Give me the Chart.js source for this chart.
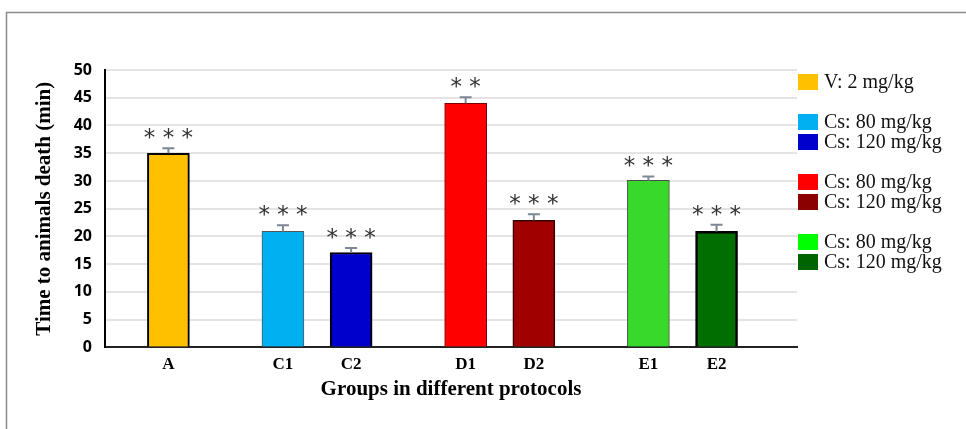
<!DOCTYPE html>
<html>
<head>
<meta charset="utf-8">
<script src="https://cdn.jsdelivr.net/npm/chart.js@4.4.1/dist/chart.umd.min.js"></script>
<style>
  html, body { margin: 0; padding: 0; background: #fff; }
  #wrap { width: 966px; height: 429px; position: relative; }
</style>
</head>
<body>
<div id="wrap"><canvas id="barChart"></canvas></div>
<script>
// groups of bars (protocols), one label per bar
const groups = [['A'], ['C1', 'C2'], ['D1', 'D2'], ['E1', 'E2']];
const times = [35.0, 20.9, 17.1, 44.0, 22.9, 30.1, 20.9];
const errors = [0.9, 1.1, 0.8, 1.1, 1.1, 0.7, 1.2];
const stars = ['***', '***', '***', '**', '***', '***', '***'];
const yTicks = [0, 5, 10, 15, 20, 25, 30, 35, 40, 45, 50];

const legendLabels = ['V: 2 mg/kg', null, 'Cs: 80 mg/kg', 'Cs: 120 mg/kg', null,
  'Cs: 80 mg/kg', 'Cs: 120 mg/kg', null, 'Cs: 80 mg/kg', 'Cs: 120 mg/kg'];
const legendColors = ['#FFC000', null, '#00B0F0', '#0000CC', null,
  '#FF0000', '#8B0000', null, '#00FF00', '#006400'];

const barColors = ['#FFC000', '#00B0F0', '#0000CC', '#FF0000', '#A00000', '#38D92A', '#006E00'];
const barBorders = ['#000', '#555', '#000', '#7a0000', '#3a0000', '#4a4a4a', '#000'];
const barBorderWidths = [2, 1, 2, 1, 1.5, 1, 2.5];

// x positions: one unit between bars of a group, a wider gap between groups
const groupGap = 1.68;
const labels = [];
const xPos = [];
let pos = 0;
groups.forEach((g, gi) => {
    if (gi > 0) pos += groupGap - 1;
    g.forEach(name => {
        labels.push(name);
        xPos.push(pos);
        pos += 1;
    });
});
const xMin = -0.93;
const xMax = xPos[xPos.length - 1] + 1.18;

const points = times.map((v, i) => ({ x: xPos[i], y: v }));

// frame line on left and top
const framePlugin = {
    id: 'frame',
    beforeDraw(chart) {
        const ctx = chart.ctx;
        ctx.save();
        ctx.strokeStyle = '#8c8c8c';
        ctx.lineWidth = 1.5;
        ctx.beginPath();
        ctx.moveTo(6.5, 429);
        ctx.lineTo(6.5, 12.5);
        ctx.lineTo(966, 12.5);
        ctx.stroke();
        ctx.restore();
    }
};

// error bars + significance stars
const errorPlugin = {
    id: 'errorBars',
    afterDatasetsDraw(chart) {
        const ctx = chart.ctx;
        const meta = chart.getDatasetMeta(0);
        const yScale = chart.scales.y;
        ctx.save();
        meta.data.forEach((bar, i) => {
            const top = yScale.getPixelForValue(times[i] + errors[i]);
            ctx.strokeStyle = '#7d8794';
            ctx.lineWidth = 2;
            ctx.beginPath();
            ctx.moveTo(bar.x, bar.y);
            ctx.lineTo(bar.x, top);
            ctx.moveTo(bar.x - 6, top);
            ctx.lineTo(bar.x + 6, top);
            ctx.stroke();

            ctx.fillStyle = '#333';
            ctx.font = '23px "DejaVu Sans"';
            ctx.textAlign = 'center';
            ctx.textBaseline = 'middle';
            ctx.fillText(stars[i].split('').join(' '), bar.x, top - 9);
        });
        ctx.restore();
    }
};

// legend on the right with blank rows between groups
const legendPlugin = {
    id: 'sideLegend',
    afterDraw(chart) {
        const ctx = chart.ctx;
        const x0 = chart.chartArea.right + 1;
        ctx.save();
        ctx.font = '20px "Liberation Serif"';
        ctx.textAlign = 'left';
        ctx.textBaseline = 'middle';
        legendLabels.forEach((txt, i) => {
            if (!txt) return;
            const cy = 82 + i * 20;
            ctx.fillStyle = legendColors[i];
            ctx.fillRect(x0, cy - 8, 20, 16);
            ctx.fillStyle = '#111';
            ctx.fillText(txt, x0 + 26, cy + 1);
        });
        ctx.restore();
    }
};

new Chart(document.getElementById('barChart'), {
    type: 'bar',
    data: {
        datasets: [{
            data: points,
            backgroundColor: barColors,
            borderColor: barBorders,
            borderWidth: barBorderWidths,
            barThickness: 42
        }]
    },
    options: {
        responsive: true,
        maintainAspectRatio: false,
        animation: false,
        layout: { padding: { left: 10, top: 70, right: 169, bottom: 27 } },
        plugins: {
            legend: { display: false },
            tooltip: { enabled: false }
        },
        scales: {
            x: {
                type: 'linear',
                offset: false,
                min: xMin,
                max: xMax,
                afterBuildTicks: axis => { axis.ticks = xPos.map(v => ({ value: v })); },
                grid: { display: false, drawTicks: false },
                border: { display: true, color: '#222', width: 2 },
                ticks: {
                    padding: 7,
                    color: '#000',
                    font: { family: 'Liberation Serif', size: 17, weight: 'bold' },
                    callback: (v, i) => labels[i]
                },
                title: {
                    display: true,
                    text: 'Groups in different protocols',
                    color: '#000',
                    font: { family: 'Liberation Serif', size: 21, weight: 'bold' },
                    padding: { top: -5, bottom: 0 }
                }
            },
            y: {
                min: 0,
                max: 50,
                afterBuildTicks: axis => { axis.ticks = yTicks.map(v => ({ value: v })); },
                afterFit: scale => { scale.width = 95; },
                grid: { color: '#e4e4e4', lineWidth: 2, drawTicks: false },
                border: { display: true, color: '#000', width: 2 },
                ticks: {
                    padding: 13,
                    color: '#000',
                    font: { family: 'Open Sans', size: 16, weight: 'bold' }
                },
                title: {
                    display: true,
                    text: 'Time to animals death (min)',
                    color: '#000',
                    font: { family: 'Liberation Serif', size: 21, weight: 'bold' },
                    padding: { top: 22, bottom: 0 }
                }
            }
        }
    },
    plugins: [framePlugin, errorPlugin, legendPlugin]
});
</script>
</body>
</html>
